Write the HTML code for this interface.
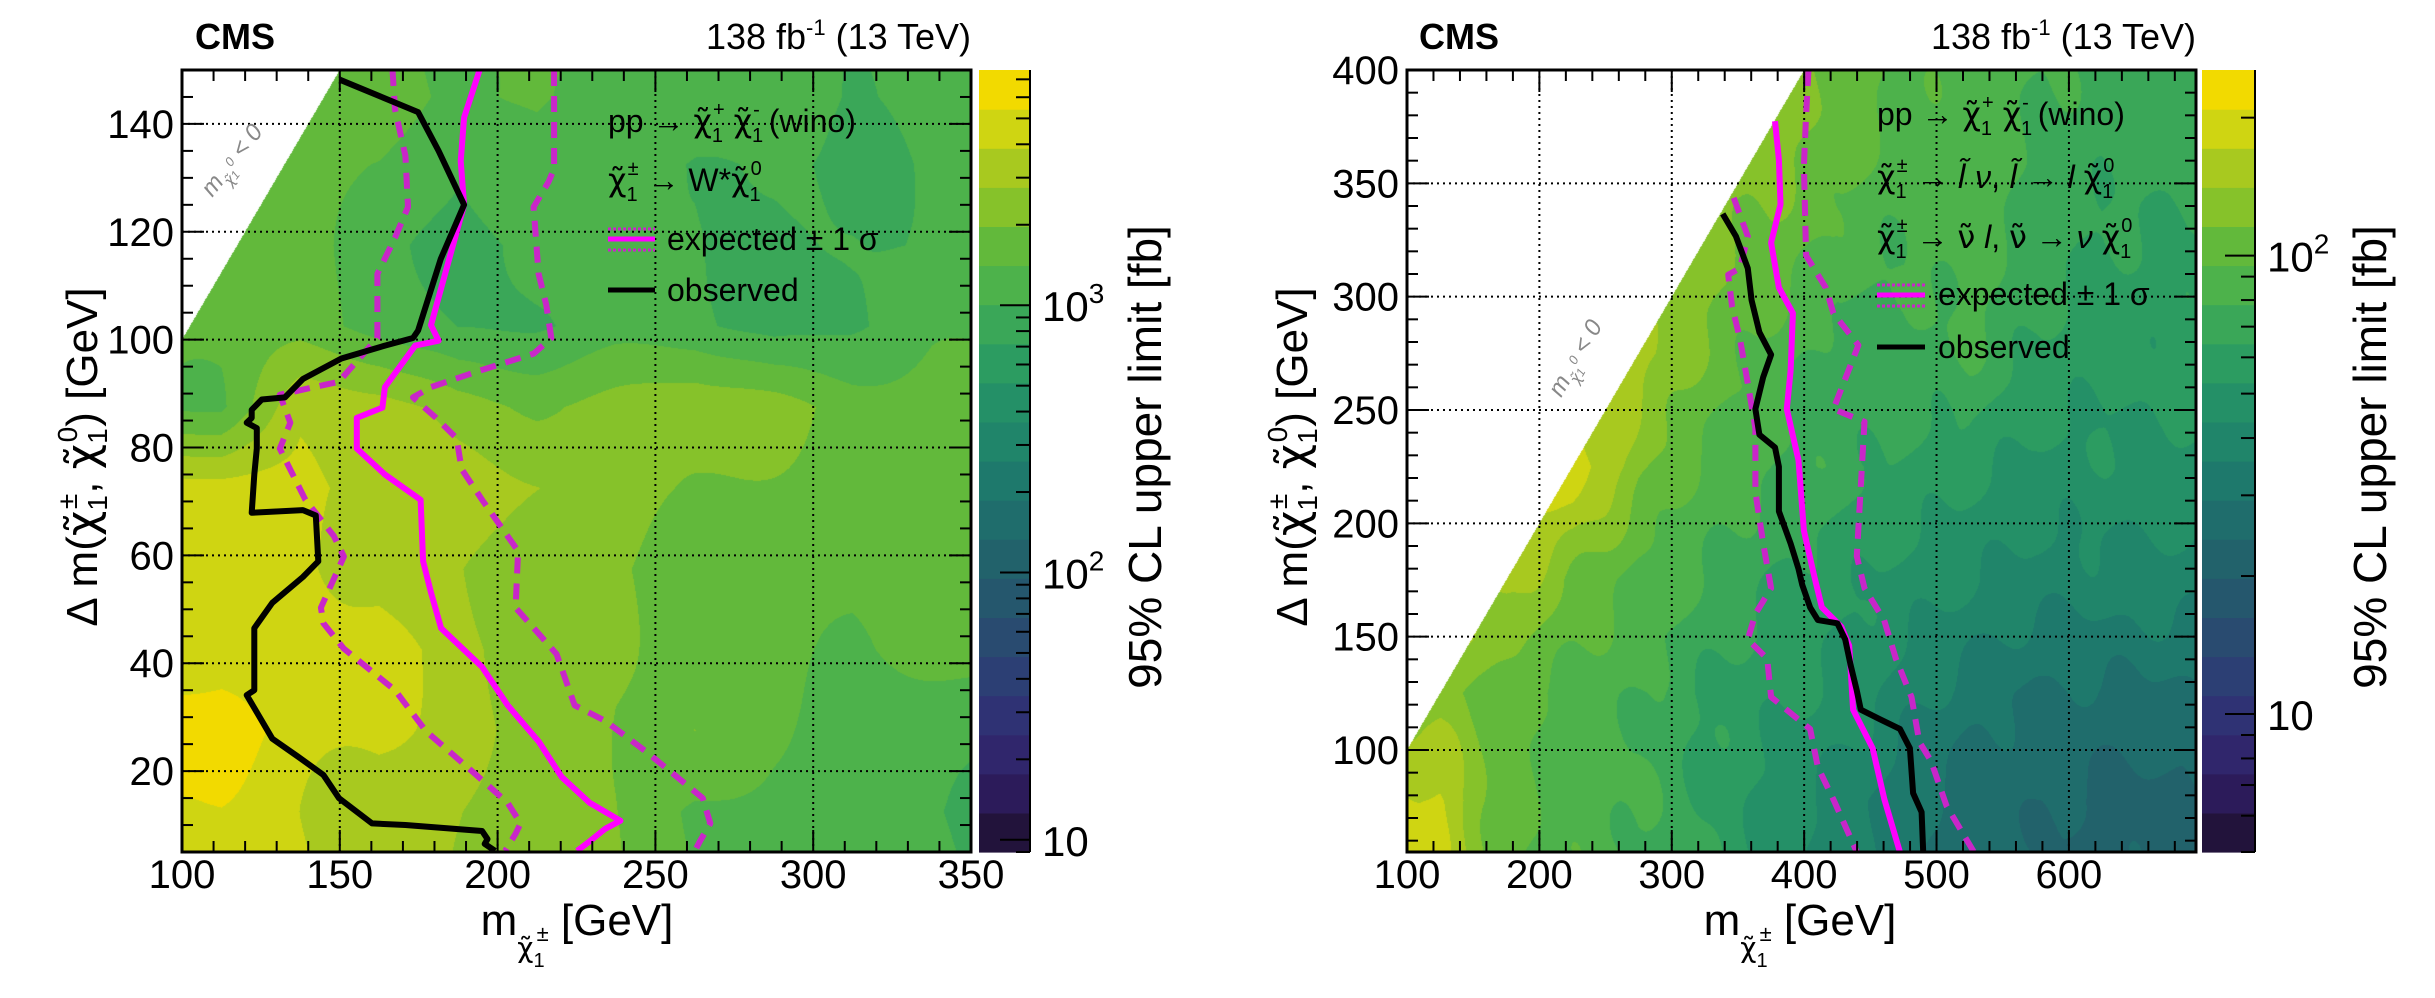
<!DOCTYPE html>
<html><head><meta charset="utf-8">
<style>
html,body{margin:0;padding:0;background:#fff;}
#wrap{position:relative;width:2435px;height:998px;overflow:hidden;font-family:"Liberation Sans",sans-serif;}
canvas{position:absolute;}
svg{position:absolute;left:0;top:0;}
text{font-family:"Liberation Sans","DejaVu Sans",sans-serif;}
.chi{font-family:"DejaVu Sans",sans-serif;}
</style></head>
<body>
<div id="wrap">
<canvas id="cL" width="789" height="782" style="left:182px;top:70px"></canvas>
<canvas id="cR" width="789" height="782" style="left:1407px;top:70px"></canvas>
<svg id="svg" width="2435" height="998"></svg>
</div>
<script>
// ---------- DATA ----------
const leftGridM = [112.5,137.5,162.5,187.5,212.5,237.5,262.5,287.5,312.5,337.5];
const leftGridD = [12.5,27.5,42.5,57.5,72.5,87.5,102.5,117.5,132.5,145];
const leftLogLimit = [ // rows bottom->top, log10(fb)
 [3.7,3.6,3.55,3.45,3.35,3.3,3.15,3.1,3.05,3.0],
 [3.85,3.65,3.6,3.5,3.4,3.3,3.3,3.15,3.1,3.05],
 [3.65,3.6,3.65,3.5,3.4,3.3,3.25,3.2,3.15,3.2],
 [3.6,3.6,3.55,3.45,3.35,3.3,3.2,3.25,3.2,3.2],
 [3.65,3.65,3.55,3.5,3.45,3.4,3.3,3.25,3.2,3.2],
 [3.15,3.55,3.5,3.35,3.3,3.35,3.4,3.35,3.25,3.2],
 [3.2,3.2,3.1,3.0,3.0,3.05,3.05,2.95,3.0,3.1],
 [3.2,3.2,3.1,2.9,3.05,3.0,3.05,2.95,3.0,3.0],
 [3.2,3.2,3.15,3.0,3.1,3.05,3.0,3.0,2.95,3.05],
 [3.2,3.2,3.25,3.1,3.2,3.1,3.05,3.1,3.0,3.1]
];
const leftObsM = [150,174.8,181.3,189.4,182,174.8,173.2,164.3,150.5,138.3,132.6,125.3,122.1,122.1,120.5,123.7,123.7,122.9,122.1,138.3,142.4,143.2,138.3,128.6,122.9,122.9,120.5,122.9,128.6,136.7,144.8,149.7,160.2,170.8,195.1,196.8,195.9,199.2];
const leftObsD = [148.2,142.2,135,125,115,101.7,100.3,98.9,96.5,92.7,89.3,88.9,87,85.5,84.6,83.6,79.8,75,67.9,68.4,67.4,58.9,56,51.2,46.5,35,34.1,31.7,26,22.7,19.3,15,10.3,10,8.9,7.4,6.5,5.2];
const leftExpM = [194.3,189.4,188.3,189.4,178.9,181.3,173.9,164.3,163.5,155.4,155.4,164.3,175.6,176.4,178.9,182.1,195.1,203.2,213,220.3,229.2,238.9,234.1,229.2,225.2];
const leftExpD = [150,141.2,133.1,125,102.7,99.8,98.9,91.2,87.4,85.5,79.8,75,70.3,58.9,53.1,46.5,39.3,32.2,25.5,18.9,14.1,10.8,9.3,7,5.2];
const leftUpM = [217.9,217.9,216.2,211.4,213,215.4,217,211.4,193.5,178.9,173.2,180.5,187,188.6,195.1,206.5,205.7,213,218.7,224.4,234.1,247.1,265,267.4,264.1,262.5];
const leftUpD = [150,131.7,129.3,124.6,112.2,106.5,100.3,97.4,94.1,91.2,89.3,85.5,81.7,76,70.3,60.8,50.3,45.5,41.7,32.2,29.3,23.6,15,10.3,7,5.2];
const leftDnM = [166.7,167.5,170.8,171.6,167.5,161.9,161.9,155.4,149.7,131,134.3,131,139.1,148.1,151.3,144,144.8,151.3,167.5,177.3,190.3,203.2,207.3,205.7,202.4];
const leftDnD = [150,142.7,134.1,124.6,118.9,112.2,100.3,96,92.2,89.8,84.6,79.8,70.3,63.6,59.8,50.3,47.4,42.7,35,27.4,20.8,14.1,10.3,8.4,5.2];

const rightGridM = [125,175,225,275,325,375,425,475,525,575,625,675];
const rightGridD = [77.5,125,175,225,275,325,375];
const rightLogLimit = [
 [2.25,2.0,1.95,1.9,1.8,1.7,1.6,1.5,1.4,1.4,1.35,1.35],
 [2.1,2.0,1.95,1.9,1.8,1.75,1.7,1.6,1.5,1.45,1.45,1.45],
 [2.2,2.2,2.05,1.95,1.9,1.8,1.75,1.7,1.65,1.6,1.6,1.6],
 [2.3,2.3,2.32,2.1,1.95,1.9,1.85,1.8,1.75,1.7,1.7,1.7],
 [2.2,2.2,2.2,2.2,2.05,1.95,1.85,1.85,1.9,1.8,1.75,1.75],
 [2.1,2.1,2.1,2.1,2.1,2.05,1.95,1.9,1.95,1.85,1.8,1.8],
 [2.1,2.1,2.1,2.1,2.1,2.1,2.05,1.95,1.95,1.9,1.85,1.85]
];
const rightObsM = [338.5,348.5,357.4,360.3,366.2,375,369.1,363.2,366.2,378,380.9,380.9,389.8,395.7,398.6,404.5,410.4,425.1,431,435.1,439.8,442.8,457.5,472.3,479.9,482.3,488.7,489.9];
const rightObsD = [336.5,326.6,312.5,298.4,284.3,274.4,264.5,250.4,239.1,233.5,225,205.3,191.1,179.9,172.8,162.9,157.3,155.9,148.8,137.5,126.2,117.8,113.5,109.3,100.8,81,72.6,55];
const rightExpM = [378,380.9,382.1,375,380.9,391.5,389.8,386.9,395.7,399.8,407.5,413.4,428.1,434,437,451.7,460.6,472.3];
const rightExpD = [377.4,360.5,340.7,323.8,304,292.7,267.3,250.4,227.8,196.8,177,162.9,154.4,146,117.8,100.8,78.2,55];
const rightDnM = [346.8,357.4,351.5,342.6,345.6,351.5,357.4,363.2,363.2,369.1,375,363.2,357.4,372.1,375,392.6,404.5,410.4,422.1,439.8];
const rightDnD = [343.6,326.6,312.5,309.7,295.6,281.5,261.7,241.9,213.7,191.1,171.4,160.1,148.8,140.3,123.4,114.9,109.3,92.4,78.2,55];
const rightUpM = [403.3,401.5,399.8,401.5,416.3,422.1,441,422.1,445.6,442.8,439.8,445.6,460.4,469.3,481.1,487,495.8,507.5,528.2];
const rightUpD = [400,380.2,357.7,318.1,304,292.7,278.6,250.4,244.8,216.5,185.5,171.4,157.3,140.3,123.4,103.6,95.2,75.4,55];

const leftXTicks = [100,150,200,250,300,350];
const leftYTicks = [20,40,60,80,100,120,140];
const rightXTicks = [100,200,300,400,500,600];
const rightYTicks = [100,150,200,250,300,350,400];

const bandColors = ['#22133b','#2c1b5a','#30266c','#2f3274','#2c3f74','#294b70','#25576d','#22626b','#1f6d6c','#1e796c','#20856a','#249067','#2c9c61','#3aa758','#4db24b','#62b93b','#86c22a','#a8c91f','#cfd512','#f2da00'];

// ---------- HELPERS ----------
const NS='http://www.w3.org/2000/svg';
const svg=document.getElementById('svg');
function mk(tag,attrs,parent){const e=document.createElementNS(NS,tag);for(const k in attrs)e.setAttribute(k,attrs[k]);(parent||svg).appendChild(e);return e;}
function hex(c){return [parseInt(c.substr(1,2),16),parseInt(c.substr(3,2),16),parseInt(c.substr(5,2),16)];}
const bandRGB=bandColors.map(hex);

function findIdx(arr,v){if(v<=arr[0])return [0,0,0];if(v>=arr[arr.length-1])return [arr.length-1,arr.length-1,0];
 for(let i=0;i<arr.length-1;i++){if(v>=arr[i]&&v<=arr[i+1])return [i,i+1,(v-arr[i])/(arr[i+1]-arr[i])];}}
function interp(gm,gd,z,m,d){const a=findIdx(gm,m),b=findIdx(gd,d);
 const z00=z[b[0]][a[0]],z01=z[b[0]][a[1]],z10=z[b[1]][a[0]],z11=z[b[1]][a[1]];
 return (z00*(1-a[2])+z01*a[2])*(1-b[2])+(z10*(1-a[2])+z11*a[2])*b[2];}

function plot(cfg){
 const {x0,x1,y0,y1,mMin,mMax,dMin,dMax}=cfg;
 const sx=m=>x0+(m-mMin)/(mMax-mMin)*(x1-x0);
 const sy=d=>y1-(d-dMin)/(dMax-dMin)*(y1-y0);
 const cv=document.getElementById(cfg.canvas),ctx=cv.getContext('2d');
 const W=cv.width,H=cv.height,img=ctx.createImageData(W,H);
 for(let py=0;py<H;py++){const d=dMax-(py+0.5)/H*(dMax-dMin);
  for(let px=0;px<W;px++){const m=mMin+(px+0.5)/W*(mMax-mMin);const o=(py*W+px)*4;
   if(d>m){img.data[o]=255;img.data[o+1]=255;img.data[o+2]=255;img.data[o+3]=255;continue;}
   const ripple=0.035*Math.sin(m*0.09+d*0.05)*Math.cos(d*0.07-m*0.03);
   const z=interp(cfg.gm,cfg.gd,cfg.z,m,d)+ripple;
   let b=Math.floor((z-cfg.zMin)/(cfg.zMax-cfg.zMin)*20);b=Math.max(0,Math.min(19,b));
   const c=bandRGB[b];img.data[o]=c[0];img.data[o+1]=c[1];img.data[o+2]=c[2];img.data[o+3]=255;}}
 ctx.putImageData(img,0,0);
 const g=mk('g',{});
 
 
 cfg.xt.forEach(v=>{if(v>mMin&&v<mMax){const l=mk('line',{x1:sx(v),x2:sx(v),y1:y0,y2:y1,stroke:'#000','stroke-width':2,'stroke-dasharray':'2,4'},g);
  }});
 cfg.yt.forEach(v=>{if(v>dMin&&v<dMax){const l=mk('line',{x1:x0,x2:x1,y1:sy(v),y2:sy(v),stroke:'#000','stroke-width':2,'stroke-dasharray':'2,4'},g);
  }});
 function curve(M,D,color,w,dash,name){const pts=M.map((m,i)=>sx(m).toFixed(1)+','+sy(Math.max(dMin,Math.min(dMax,D[i]))).toFixed(1)).join(' ');
  const p=mk('polyline',{points:pts,fill:'none',stroke:color,'stroke-width':w,'stroke-linejoin':'round','stroke-dasharray':dash||'none'},g);
  }
 curve(cfg.dnM,cfg.dnD,'#c926c9',6,'16,10','expected-minus-1sigma');
 curve(cfg.upM,cfg.upD,'#c926c9',6,'16,10','expected-plus-1sigma');
 curve(cfg.expM,cfg.expD,'#ff00ff',6,null,'expected-limit');
 curve(cfg.obsM,cfg.obsD,'#000',6,null,'observed-limit');
 mk('rect',{x:x0,y:y0,width:x1-x0,height:y1-y0,fill:'none',stroke:'#000','stroke-width':3},g);
 for(let v=cfg.xMinorStart;v<=mMax+1e-6;v+=cfg.xMinor){const major=cfg.xt.includes(Math.round(v));const L=major?22:11;const X=sx(v);
  mk('line',{x1:X,x2:X,y1:y1,y2:y1-L,stroke:'#000','stroke-width':2},g);mk('line',{x1:X,x2:X,y1:y0,y2:y0+L,stroke:'#000','stroke-width':2},g);}
 for(let v=cfg.yMinorStart;v<=dMax+1e-6;v+=cfg.yMinor){const major=cfg.yt.includes(Math.round(v));const L=major?22:11;const Y=sy(v);
  mk('line',{x1:x0,x2:x0+L,y1:Y,y2:Y,stroke:'#000','stroke-width':2},g);mk('line',{x1:x1,x2:x1-L,y1:Y,y2:Y,stroke:'#000','stroke-width':2},g);}
 cfg.xt.forEach(v=>{const t=mk('text',{x:sx(v),y:888,'font-size':40,'text-anchor':'middle'},g);t.textContent=v;
  });
 cfg.yt.forEach(v=>{const t=mk('text',{x:x0-8,y:sy(v)+14,'font-size':40,'text-anchor':'end'},g);t.textContent=v;
  });
 const cb=mk('g',{},g);
 
 const cbh=(y1-y0)/20;
 bandColors.forEach((c,i)=>{mk('rect',{x:cfg.cbx,y:y1-(i+1)*cbh,width:cfg.cbw,height:cbh+0.6,fill:c},cb);});
 mk('line',{x1:cfg.cbx+cfg.cbw,x2:cfg.cbx+cfg.cbw,y1:y0,y2:y1,stroke:'#000','stroke-width':2},cb);
 const lz=v=>y1-(Math.log10(v)-cfg.zMin)/(cfg.zMax-cfg.zMin)*(y1-y0);
 for(let e=0;e<5;e++){for(let k=1;k<10;k++){const v=k*Math.pow(10,e);const Y=lz(v);if(Y<y0-0.5||Y>y1+0.5)continue;const L=k===1?30:14;
  mk('line',{x1:cfg.cbx+cfg.cbw-L,x2:cfg.cbx+cfg.cbw,y1:Y,y2:Y,stroke:'#000','stroke-width':2},cb);}}
 cfg.cbLabels.forEach(l=>{const Y=lz(Math.pow(10,l));const t=mk('text',{x:cfg.cbx+cfg.cbw+12,y:Y+16,'font-size':42},cb);
  if(l===1){t.textContent='10';}else{t.textContent='10';const s=mk('tspan',{dy:-18,'font-size':28},t);s.textContent=String(l);}});
}

plot({name:'left-panel',canvas:'cL',x0:182,x1:971,y0:70,y1:852,mMin:100,mMax:350,dMin:5,dMax:150,
 gm:leftGridM,gd:leftGridD,z:leftLogLimit,zMin:Math.log10(9),zMax:3.88,
 obsM:leftObsM,obsD:leftObsD,expM:leftExpM,expD:leftExpD,upM:leftUpM,upD:leftUpD,dnM:leftDnM,dnD:leftDnD,
 xt:leftXTicks,yt:leftYTicks,xMinor:10,xMinorStart:100,yMinor:5,yMinorStart:5,cbx:979,cbw:51,cbLabels:[1,2,3]});
plot({name:'right-panel',canvas:'cR',x0:1407,x1:2196,y0:70,y1:852,mMin:100,mMax:696,dMin:55,dMax:400,
 gm:rightGridM,gd:rightGridD,z:rightLogLimit,zMin:Math.log10(5),zMax:2.405,
 obsM:rightObsM,obsD:rightObsD,expM:rightExpM,expD:rightExpD,upM:rightUpM,upD:rightUpD,dnM:rightDnM,dnD:rightDnD,
 xt:rightXTicks,yt:rightYTicks,xMinor:20,xMinorStart:100,yMinor:10,yMinorStart:60,cbx:2202,cbw:53,cbLabels:[1,2]});
</script>
<svg width="2435" height="998" style="position:absolute;left:0;top:0">
 <g font-family="Liberation Sans, DejaVu Sans, sans-serif">
 <text x="195" y="49" font-size="36" font-weight="bold">CMS</text>
 <text x="971" y="49" font-size="36" text-anchor="end">138 fb<tspan dy="-14" font-size="22">-1</tspan><tspan dy="14"> (13 TeV)</tspan></text>
 <text transform="translate(97,457) rotate(-90)" font-size="44" text-anchor="middle">Δ m(<tspan class="chi">χ̃</tspan><tspan dy="10" font-size="28">1</tspan><tspan dy="-30" font-size="28" dx="-14">±</tspan><tspan dy="20">, </tspan><tspan class="chi">χ̃</tspan><tspan dy="10" font-size="28">1</tspan><tspan dy="-30" font-size="28" dx="-14">0</tspan><tspan dy="20">) [GeV]</tspan></text>
 <text x="577" y="935" font-size="44" text-anchor="middle">m<tspan dy="22" font-size="28" class="chi">χ̃</tspan><tspan dy="10" font-size="20">1</tspan><tspan dy="-26" font-size="22" dx="-8">±</tspan><tspan dy="-6"> [GeV]</tspan></text>
 <text transform="translate(1161,457) rotate(-90)" font-size="46" text-anchor="middle">95% CL upper limit [fb]</text>
 <text transform="translate(238,165) rotate(-52)" font-size="24" fill="#888" font-style="italic" text-anchor="middle">m<tspan dy="8" font-size="15" class="chi">χ̃</tspan><tspan font-size="12">1</tspan><tspan dy="-12" font-size="13">0</tspan><tspan dy="4"> &lt; 0</tspan></text>
 <g>
  <text x="608" y="132" font-size="32">pp → <tspan class="chi">χ̃</tspan><tspan dy="10" font-size="20">1</tspan><tspan dy="-26" font-size="20" dx="-10">+</tspan><tspan dy="16">  </tspan><tspan class="chi">χ̃</tspan><tspan dy="10" font-size="20">1</tspan><tspan dy="-26" font-size="20" dx="-10">-</tspan><tspan dy="16">  (wino)</tspan></text>
  <text x="608" y="191" font-size="32"><tspan class="chi">χ̃</tspan><tspan dy="10" font-size="20">1</tspan><tspan dy="-26" font-size="20" dx="-10">±</tspan><tspan dy="16"> → W*</tspan><tspan class="chi">χ̃</tspan><tspan dy="10" font-size="20">1</tspan><tspan dy="-26" font-size="20" dx="-10">0</tspan></text>
  <line x1="608" x2="655" y1="239" y2="239" stroke="#ff00ff" stroke-width="5"/>
  <line x1="608" x2="655" y1="229" y2="229" stroke="#c926c9" stroke-width="3" stroke-dasharray="3,2"/>
  <line x1="608" x2="655" y1="250" y2="250" stroke="#c926c9" stroke-width="3" stroke-dasharray="3,2"/>
  <text x="667" y="250" font-size="32">expected ± 1 σ</text>
  <line x1="608" x2="655" y1="290" y2="290" stroke="#000" stroke-width="5"/>
  <text x="667" y="301" font-size="32">observed</text>
 </g>
 <text x="1419" y="49" font-size="36" font-weight="bold">CMS</text>
 <text x="2196" y="49" font-size="36" text-anchor="end">138 fb<tspan dy="-14" font-size="22">-1</tspan><tspan dy="14"> (13 TeV)</tspan></text>
 <text transform="translate(1307,457) rotate(-90)" font-size="44" text-anchor="middle">Δ m(<tspan class="chi">χ̃</tspan><tspan dy="10" font-size="28">1</tspan><tspan dy="-30" font-size="28" dx="-14">±</tspan><tspan dy="20">, </tspan><tspan class="chi">χ̃</tspan><tspan dy="10" font-size="28">1</tspan><tspan dy="-30" font-size="28" dx="-14">0</tspan><tspan dy="20">) [GeV]</tspan></text>
 <text x="1800" y="935" font-size="44" text-anchor="middle">m<tspan dy="22" font-size="28" class="chi">χ̃</tspan><tspan dy="10" font-size="20">1</tspan><tspan dy="-26" font-size="22" dx="-8">±</tspan><tspan dy="-6"> [GeV]</tspan></text>
 <text transform="translate(2386,457) rotate(-90)" font-size="46" text-anchor="middle">95% CL upper limit [fb]</text>
 <text transform="translate(1582,362) rotate(-60)" font-size="24" fill="#888" font-style="italic" text-anchor="middle">m<tspan dy="8" font-size="15" class="chi">χ̃</tspan><tspan font-size="12">1</tspan><tspan dy="-12" font-size="13">0</tspan><tspan dy="4"> &lt; 0</tspan></text>
 <g>
  <text x="1877" y="125" font-size="32">pp → <tspan class="chi">χ̃</tspan><tspan dy="10" font-size="20">1</tspan><tspan dy="-26" font-size="20" dx="-10">+</tspan><tspan dy="16"> </tspan><tspan class="chi">χ̃</tspan><tspan dy="10" font-size="20">1</tspan><tspan dy="-26" font-size="20" dx="-10">-</tspan><tspan dy="16">  (wino)</tspan></text>
  <text x="1877" y="188" font-size="32"><tspan class="chi">χ̃</tspan><tspan dy="10" font-size="20">1</tspan><tspan dy="-26" font-size="20" dx="-10">±</tspan><tspan dy="16"> → </tspan><tspan class="chi" font-style="italic">l̃</tspan><tspan font-style="italic"> ν</tspan><tspan>,  </tspan><tspan class="chi" font-style="italic">l̃</tspan><tspan> → </tspan><tspan font-style="italic">l </tspan><tspan class="chi">χ̃</tspan><tspan dy="10" font-size="20">1</tspan><tspan dy="-26" font-size="20" dx="-10">0</tspan></text>
  <text x="1877" y="248" font-size="32"><tspan class="chi">χ̃</tspan><tspan dy="10" font-size="20">1</tspan><tspan dy="-26" font-size="20" dx="-10">±</tspan><tspan dy="16"> → </tspan><tspan class="chi">ν̃</tspan><tspan font-style="italic"> l</tspan><tspan>,  </tspan><tspan class="chi">ν̃</tspan><tspan> → </tspan><tspan font-style="italic">ν </tspan><tspan class="chi">χ̃</tspan><tspan dy="10" font-size="20">1</tspan><tspan dy="-26" font-size="20" dx="-10">0</tspan></text>
  <line x1="1877" x2="1925" y1="295" y2="295" stroke="#ff00ff" stroke-width="5"/>
  <line x1="1877" x2="1925" y1="285" y2="285" stroke="#c926c9" stroke-width="3" stroke-dasharray="3,2"/>
  <line x1="1877" x2="1925" y1="306" y2="306" stroke="#c926c9" stroke-width="3" stroke-dasharray="3,2"/>
  <text x="1938" y="305" font-size="32">expected ± 1 σ</text>
  <line x1="1877" x2="1925" y1="347" y2="347" stroke="#000" stroke-width="5"/>
  <text x="1938" y="358" font-size="32">observed</text>
 </g>
 </g>
</svg>
</body></html>
